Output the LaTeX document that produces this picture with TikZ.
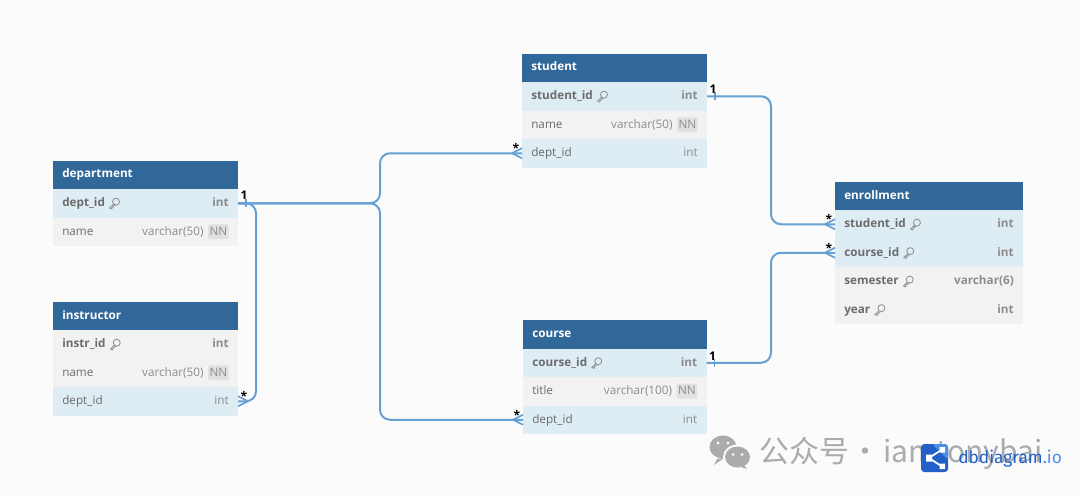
\documentclass[tikz,border=0pt]{standalone}
\usepackage{fontspec}
\setmainfont{Open Sans}
\newfontfamily\cjkf{Noto Sans CJK SC}
\newfontfamily\logof{Fira Sans}
\usetikzlibrary{calc}
\definecolor{pagebg}{HTML}{FBFBFC}
\definecolor{headbg}{HTML}{31689A}
\definecolor{rowblue}{HTML}{DEECF4}
\definecolor{rowgrey}{HTML}{F2F2F2}
\definecolor{fieldtxt}{HTML}{6C6C6C}
\definecolor{typetxt}{HTML}{8C8C8C}
\definecolor{badgebg}{HTML}{E1E1E1}
\definecolor{relcol}{HTML}{659FD4}
\definecolor{logodark}{HTML}{2260C8}
\definecolor{logolight}{HTML}{4A90E8}
\definecolor{wmgrey}{HTML}{ABABAB}
\newdimen\px \px=0.75pt
\newdimen\tw
\tikzset{
  x=0.75pt,y=-0.75pt,
  head/.style={anchor=north west,fill=headbg,draw=none,minimum width=\tw,minimum height=28.5\px,
    inner sep=0pt,outer sep=0pt},
  tfont/.style={text height=7pt,text depth=2pt},
  headtxt/.style={anchor=west,inner sep=0pt,tfont,text=white,font=\fontsize{8.8}{10}\selectfont\bfseries},
  rowb/.style={anchor=north west,fill=#1,minimum width=\tw,minimum height=28.5\px,inner sep=0pt,outer sep=0pt},
  fieldlab/.style={anchor=west,inner sep=0pt,tfont,text=fieldtxt,font=\fontsize{8.8}{10}\selectfont},
  keylab/.style={anchor=west,inner sep=0pt,tfont,text=fieldtxt,font=\fontsize{8.8}{10}\selectfont\bfseries},
  typelab/.style={anchor=east,inner sep=0pt,tfont,text=typetxt,font=\fontsize{8.8}{10}\selectfont},
  ktypelab/.style={anchor=east,inner sep=0pt,tfont,text=typetxt,font=\fontsize{8.8}{10}\selectfont\bfseries},
  badge/.style={anchor=east,fill=badgebg,rounded corners=1.5pt,inner sep=1.1pt,tfont,text=typetxt,
    font=\fontsize{8.8}{10}\selectfont},
  rel/.style={draw=relcol,line width=1.5pt,rounded corners=7.5pt},
  relmark/.style={draw=relcol,line width=1.2pt},
  card/.style={inner sep=0pt,text=black,font=\fontsize{9}{10}\selectfont\bfseries},
  keyic/.style={draw=typetxt,line width=0.6pt},
}
% table header
\newcommand\dbhead[4]{\node[head] (#1) at (#2,#3) {};
  \node[headtxt] (#1-t) at ([xshift=9\px,yshift=0.5\px]#1.west) {#4};}
% plain row: id,x,y,colour,field,type
\newcommand\dbrow[6]{\node[rowb=#4] (#1) at (#2,#3) {};
  \node[fieldlab] (#1-f) at ([xshift=9\px]#1.west) {#5};
  \node[typelab] (#1-y) at ([xshift=-9\px]#1.east) {#6};}
% row with NN badge
\newcommand\dbnn[6]{\node[rowb=#4] (#1) at (#2,#3) {};
  \node[fieldlab] (#1-f) at ([xshift=9\px]#1.west) {#5};
  \node[badge] (#1-b) at ([xshift=-9\px]#1.east) {NN};
  \node[typelab] (#1-y) at ([xshift=-4\px]#1-b.west) {#6};}
% key row
\newcommand\dbkey[6]{\node[rowb=#4] (#1) at (#2,#3) {};
  \node[keylab] (#1-f) at ([xshift=9\px]#1.west) {#5};
  \node[ktypelab] (#1-y) at ([xshift=-9\px]#1.east) {#6};
  \begin{scope}[shift={($(#1-f.east)+(9,0)$)}]
    \draw[keyic] (1.8,-1.6) circle (3.5);
    \draw[keyic] (-0.6,0.9) -- (-4.6,4.8) -- (-2.4,5.6) -- (-1.8,4) -- (0.9,2);
  \end{scope}}
% crow's foot: opening towards the table
\newcommand\crowL[1]{\draw[relmark] ([xshift=-10\px]#1.west) -- ([yshift=-5\px]#1.west)
   ([xshift=-10\px]#1.west) -- ([yshift=5\px]#1.west);}
\newcommand\crowR[1]{\draw[relmark] ([xshift=10\px]#1.east) -- ([yshift=-5\px]#1.east)
   ([xshift=10\px]#1.east) -- ([yshift=5\px]#1.east);}
\newcommand\tick[1]{\draw[relmark] ([xshift=8\px,yshift=-4\px]#1.east) -- ([xshift=8\px,yshift=4\px]#1.east);}
\begin{document}
\begin{tikzpicture}
\useasboundingbox (0,0) rectangle (1080,496);
\fill[pagebg] (0,0) rectangle (1080,496);

% department
\tw=185\px
\dbhead{dep}{53}{160.5}{department}
\dbkey{depid}{53}{189}{rowblue}{dept\_id}{int}
\dbnn{depname}{53}{217.5}{rowgrey}{name}{varchar(50)}
% instructor
\dbhead{ins}{53}{302}{instructor}
\dbkey{insid}{53}{330}{rowgrey}{instr\_id}{int}
\dbnn{insname}{53}{358.5}{rowgrey}{name}{varchar(50)}
\dbrow{insdept}{53}{387}{rowblue}{dept\_id}{int}
% student
\dbhead{stu}{522}{53.5}{student}
\dbkey{stuid}{522}{82}{rowblue}{student\_id}{int}
\dbnn{stuname}{522}{110.5}{rowgrey}{name}{varchar(50)}
\dbrow{studept}{522}{139}{rowblue}{dept\_id}{int}
% course
\tw=183.5\px
\dbhead{cou}{523}{320}{course}
\dbkey{couid}{523}{348.5}{rowblue}{course\_id}{int}
\dbnn{coutitle}{523}{377}{rowgrey}{title}{varchar(100)}
\dbrow{coudept}{523}{405.5}{rowblue}{dept\_id}{int}
% enrollment
\tw=188\px
\dbhead{enr}{835}{182}{enrollment}
\dbkey{enrstu}{835}{210}{rowblue}{student\_id}{int}
\dbkey{enrcou}{835}{238.5}{rowblue}{course\_id}{int}
\dbkey{enrsem}{835}{267}{rowgrey}{semester}{varchar(6)}
\dbkey{enryear}{835}{295.5}{rowgrey}{year}{int}

% connectors
\coordinate (busA) at (380,0);
\coordinate (busB) at (256,0);
\coordinate (busC) at (771,0);
\draw[rel] (depid.east) -- (busA |- depid.east) -- (busA |- studept.west) -- (studept.west);
\draw[rel] (depid.east) -- (busA |- depid.east) -- (busA |- coudept.west) -- (coudept.west);
\draw[rel] (depid.east) -- (busB |- depid.east) -- (busB |- insdept.east) -- (insdept.east);
\draw[rel] (stuid.east) -- (busC |- stuid.east) -- (busC |- enrstu.west) -- (enrstu.west);
\draw[rel] (couid.east) -- (busC |- couid.east) -- (busC |- enrcou.west) -- (enrcou.west);

\tick{depid} \tick{stuid} \tick{couid}
\crowL{studept} \crowL{coudept} \crowL{enrstu} \crowL{enrcou} \crowR{insdept}

% cardinalities
\node[card] (c1) at ([xshift=6\px,yshift=8\px]depid.east) {1};
\node[card] (c2) at ([xshift=6\px,yshift=7\px]stuid.east) {1};
\node[card] (c3) at ([xshift=6\px,yshift=7\px]couid.east) {1};
\node[card] (c4) at ([xshift=-6\px,yshift=5\px]studept.west) {*};
\node[card] (c5) at ([xshift=-6\px,yshift=5\px]coudept.west) {*};
\node[card] (c6) at ([xshift=-6\px,yshift=5\px]enrstu.west) {*};
\node[card] (c7) at ([xshift=-6\px,yshift=5\px]enrcou.west) {*};
\node[card] (c8) at ([xshift=6\px,yshift=5\px]insdept.east) {*};

% watermark
\fill[wmgrey] (723,447) ellipse (13.5 and 11.5);
\fill[wmgrey] (717,459) -- (714,465) -- (724,458) -- cycle;
\fill[pagebg] (737.5,457) ellipse (14.5 and 12.5);
\fill[wmgrey] (737.5,457) ellipse (12.5 and 10.5);
\fill[wmgrey] (744,465) -- (747,469) -- (738,466) -- cycle;
\fill[pagebg] (718,443) circle (1.7) (728,443) circle (1.7) (733,454.5) circle (1.5) (742,454.5) circle (1.5);
\node[anchor=west,inner sep=0pt,text=wmgrey,font=\cjkf\fontsize{22.5}{24}\selectfont] (wm) at (759,453) {公众号\hspace{-4pt} · \hspace{-3pt}iamtonybai};

% logo
\fill[logodark,rounded corners=2.5pt] (921,444) rectangle (948,472);
\fill[logolight,rounded corners=2.5pt] (932,444) -- (948,444) -- (948,460) -- cycle;
\draw[white,line width=1.3pt] (942,449.5) -- (929,458) -- (942,466.5);
\fill[white] (926,454.5) rectangle (932,461.5) (939.5,447) rectangle (945,452.5) (939.5,463.5) rectangle (945,469);
\node[anchor=west,inner sep=0pt,font=\logof\fontsize{13}{14}\selectfont] (logo) at (958,459)
  {\textcolor{logodark}{dbdiagram}\textcolor{logolight}{.io}};
\end{tikzpicture}
\end{document}
